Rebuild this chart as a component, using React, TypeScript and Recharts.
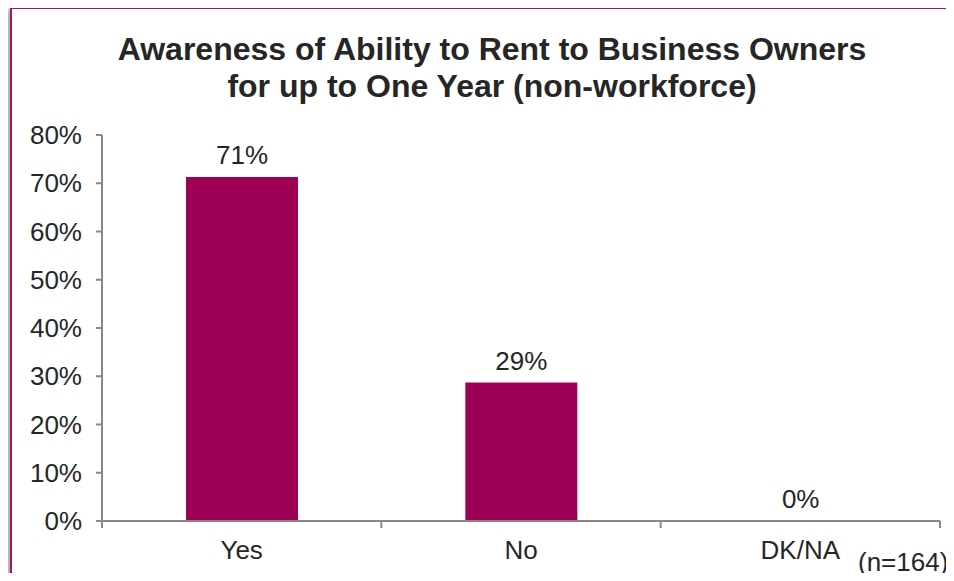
import React from 'react';
import { BarChart, Bar, XAxis, YAxis, LabelList } from 'recharts';

const categories = ['Yes', 'No', 'DK/NA'];
const awareness = [71.3, 28.7, 0];
const yTicks = [0, 10, 20, 30, 40, 50, 60, 70, 80];

const BAR_COLOR = '#9E0056';
const FRAME_COLOR = '#A8106A';
const AXIS_COLOR = '#898989';
const TEXT_COLOR = '#262626';
const FONT = '"Liberation Sans", Arial, sans-serif';

const data = categories.map((name, i) => ({ name, value: awareness[i] }));

// category label in the middle, tick marks on the band edges
const CategoryTick = (props: any) => {
  const { x, y, payload, index } = props;
  const half = payload.offset || 0;
  return (
    <g>
      <line x1={x - half} x2={x - half} y1={y} y2={y + 7} stroke={AXIS_COLOR} strokeWidth={2} />
      {index === categories.length - 1 && (
        <line x1={x + half} x2={x + half} y1={y} y2={y + 7} stroke={AXIS_COLOR} strokeWidth={2} />
      )}
      <text x={x} y={y + 20} dy="0.71em" textAnchor="middle" fill={TEXT_COLOR} fontSize={26} fontFamily={FONT}>
        {payload.value}
      </text>
    </g>
  );
};

export default function App() {
  return (
    <div style={{ position: 'relative', width: 954, height: 581, margin: -8, overflow: 'hidden', background: '#fff', fontFamily: FONT }}>
      <div
        style={{
          position: 'absolute', left: 10, top: 7, width: 980, height: 620,
          border: `2px solid ${FRAME_COLOR}`, boxShadow: '-4px 2px 6px rgba(0,0,0,0.35)', background: '#fff',
        }}
      />
      <div
        style={{
          position: 'absolute', left: 0, top: 31, width: 984, textAlign: 'center',
          fontSize: 32, fontWeight: 'bold', lineHeight: '37px', color: TEXT_COLOR,
        }}
      >
        Awareness of Ability to Rent to Business Owners
        <br />
        for up to One Year (non-workforce)
      </div>
      <div style={{ position: 'absolute' }}>
        <BarChart width={954} height={581} data={data} margin={{ top: 135, right: 14, bottom: 30, left: 0 }}>
          <XAxis
            dataKey="name"
            height={30}
            tickLine={false}
            tickSize={0}
            tickMargin={0}
            axisLine={{ stroke: AXIS_COLOR, strokeWidth: 2 }}
            tick={<CategoryTick />}
            interval={0}
          />
          <YAxis
            width={102}
            domain={[0, 80]}
            ticks={yTicks}
            interval={0}
            tickFormatter={(v: number) => `${v}%`}
            tickSize={6}
            tickMargin={14}
            tickLine={{ stroke: AXIS_COLOR, strokeWidth: 2 }}
            axisLine={{ stroke: AXIS_COLOR, strokeWidth: 2 }}
            tick={{ fill: TEXT_COLOR, fontSize: 26, fontFamily: FONT }}
          />
          <Bar dataKey="value" fill={BAR_COLOR} barSize={112} minPointSize={0.01} isAnimationActive={false}>
            <LabelList
              dataKey="value"
              position="top"
              offset={13}
              formatter={(v: number) => `${Math.round(v)}%`}
              style={{ fill: TEXT_COLOR, fontSize: 26, fontFamily: FONT }}
            />
          </Bar>
        </BarChart>
      </div>
      <div style={{ position: 'absolute', left: 858, top: 549, fontSize: 26, lineHeight: '26px', color: TEXT_COLOR }}>(n=164)</div>
    </div>
  );
}
